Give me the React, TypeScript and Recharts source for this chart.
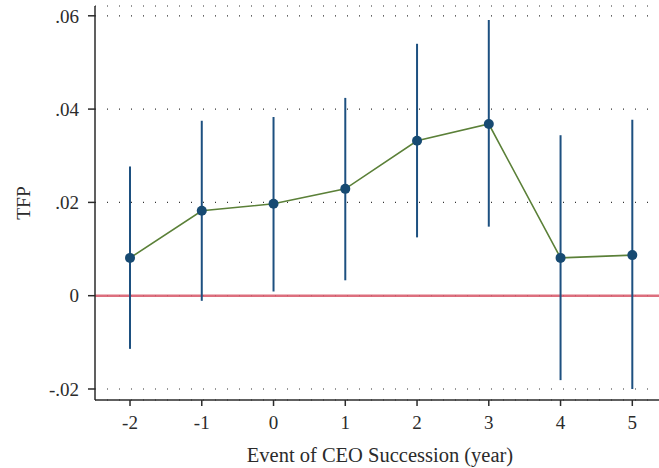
import React from 'react'
import {
  ComposedChart,
  Line,
  ErrorBar,
  XAxis,
  YAxis,
  CartesianGrid,
  ReferenceLine,
  Label,
} from 'recharts'

const events = [-2, -1, 0, 1, 2, 3, 4, 5]
const coef = [0.0081, 0.0182, 0.0197, 0.0229, 0.0332, 0.0368, 0.0081, 0.0087]
const ciLow = [-0.0114, -0.0011, 0.0009, 0.0033, 0.0125, 0.0148, -0.0181, -0.02]
const ciHigh = [0.0277, 0.0375, 0.0383, 0.0424, 0.054, 0.0591, 0.0344, 0.0377]
const yTicks = [-0.02, 0, 0.02, 0.04, 0.06]

const data = events.map((e, i) => ({
  event: e,
  tfp: coef[i],
  ci: [coef[i] - ciLow[i], ciHigh[i] - coef[i]],
}))

const FONT = '"Liberation Serif", "DejaVu Serif", serif'
const INK = '#2b2b2b'

const fmtY = (v: number) => {
  if (v === 0) return '0'
  const s = Math.abs(v).toFixed(2).replace(/^0/, '')
  return v < 0 ? `-${s}` : s
}

const YTitle = (props: any) => {
  const vb = props.viewBox
  const cy = vb.y + vb.height / 2
  return (
    <text
      x={23}
      y={cy}
      transform={`rotate(-90, 23, ${cy})`}
      textAnchor="middle"
      dominantBaseline="central"
      fontFamily={FONT}
      fontSize={19.5}
      fill={INK}
    >
      TFP
    </text>
  )
}

const XTitle = (props: any) => {
  const vb = props.viewBox
  return (
    <text
      x={vb.x + vb.width / 2 + 3}
      y={462}
      textAnchor="middle"
      fontFamily={FONT}
      fontSize={20.5}
      fill={INK}
    >
      Event of CEO Succession (year)
    </text>
  )
}

export default function App() {
  return (
    <div style={{ position: 'absolute', left: 0, top: 0, background: '#fff' }}>
      <ComposedChart
        width={659}
        height={468}
        data={data}
        margin={{ top: 6, right: 0, left: 0, bottom: 0 }}
      >
        <CartesianGrid
          vertical={false}
          stroke="#333"
          strokeDasharray="1 11"
          strokeWidth={1.2}
        />
        <XAxis
          type="number"
          dataKey="event"
          domain={[-2.488, 5.372]}
          ticks={events}
          allowDataOverflow
          height={68}
          tickSize={6}
          tickMargin={10}
          axisLine={{ stroke: INK, strokeWidth: 1.5 }}
          tickLine={{ stroke: INK, strokeWidth: 1.5 }}
          tick={{ fontFamily: FONT, fontSize: 19, fill: INK }}
        >
          <Label content={<XTitle />} />
        </XAxis>
        <YAxis
          type="number"
          domain={[-0.02236, 0.0621]}
          ticks={yTicks}
          allowDataOverflow
          width={95}
          tickSize={7}
          tickMargin={9}
          tickFormatter={fmtY}
          axisLine={{ stroke: INK, strokeWidth: 1.5 }}
          tickLine={{ stroke: INK, strokeWidth: 1.5 }}
          tick={{ fontFamily: FONT, fontSize: 19, fill: INK }}
        >
          <Label content={<YTitle />} />
        </YAxis>
        <ReferenceLine y={0} stroke="#d95f70" strokeWidth={2.4} strokeOpacity={0.9} />
        <Line
          type="linear"
          dataKey="tfp"
          stroke="#5b8038"
          strokeWidth={1.6}
          dot={{ r: 5, fill: '#174a72', stroke: '#174a72', strokeWidth: 0 }}
          activeDot={false}
          isAnimationActive={false}
        >
          <ErrorBar
            dataKey="ci"
            direction="y"
            width={0}
            stroke="#1d5080"
            strokeWidth={2}
            isAnimationActive={false}
          />
        </Line>
      </ComposedChart>
    </div>
  )
}
